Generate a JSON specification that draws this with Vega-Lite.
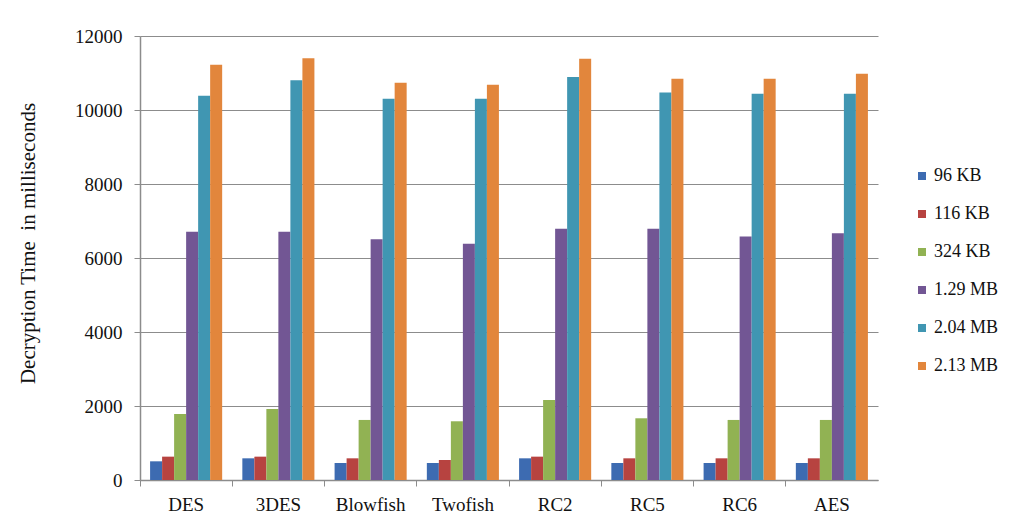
{
  "$schema": "https://vega.github.io/schema/vega-lite/v6.json",
  "width": 738,
  "height": 444,
  "autosize": {"type": "none"},
  "padding": {"left": 140, "top": 36, "right": 141, "bottom": 46},
  "background": "white",
  "config": {
    "view": {"stroke": null},
    "font": "Liberation Serif",
    "axis": {
      "labelFont": "Liberation Serif",
      "titleFont": "Liberation Serif",
      "labelColor": "#111111",
      "titleColor": "#111111",
      "domainColor": "#8c8c8c",
      "tickColor": "#8c8c8c",
      "gridColor": "#8c8c8c",
      "gridOpacity": 1
    },
    "legend": {
      "labelFont": "Liberation Serif",
      "labelColor": "#111111"
    }
  },
  "data": {
    "values": [
      {"algorithm": "DES", "size": "96 KB", "time": 505},
      {"algorithm": "DES", "size": "116 KB", "time": 631},
      {"algorithm": "DES", "size": "324 KB", "time": 1785},
      {"algorithm": "DES", "size": "1.29 MB", "time": 6708},
      {"algorithm": "DES", "size": "2.04 MB", "time": 10386},
      {"algorithm": "DES", "size": "2.13 MB", "time": 11224},
      {"algorithm": "3DES", "size": "96 KB", "time": 586},
      {"algorithm": "3DES", "size": "116 KB", "time": 631},
      {"algorithm": "3DES", "size": "324 KB", "time": 1920},
      {"algorithm": "3DES", "size": "1.29 MB", "time": 6708},
      {"algorithm": "3DES", "size": "2.04 MB", "time": 10801},
      {"algorithm": "3DES", "size": "2.13 MB", "time": 11396},
      {"algorithm": "Blowfish", "size": "96 KB", "time": 460},
      {"algorithm": "Blowfish", "size": "116 KB", "time": 586},
      {"algorithm": "Blowfish", "size": "324 KB", "time": 1623},
      {"algorithm": "Blowfish", "size": "1.29 MB", "time": 6509},
      {"algorithm": "Blowfish", "size": "2.04 MB", "time": 10305},
      {"algorithm": "Blowfish", "size": "2.13 MB", "time": 10738},
      {"algorithm": "Twofish", "size": "96 KB", "time": 460},
      {"algorithm": "Twofish", "size": "116 KB", "time": 541},
      {"algorithm": "Twofish", "size": "324 KB", "time": 1587},
      {"algorithm": "Twofish", "size": "1.29 MB", "time": 6383},
      {"algorithm": "Twofish", "size": "2.04 MB", "time": 10305},
      {"algorithm": "Twofish", "size": "2.13 MB", "time": 10684},
      {"algorithm": "RC2", "size": "96 KB", "time": 586},
      {"algorithm": "RC2", "size": "116 KB", "time": 631},
      {"algorithm": "RC2", "size": "324 KB", "time": 2164},
      {"algorithm": "RC2", "size": "1.29 MB", "time": 6789},
      {"algorithm": "RC2", "size": "2.04 MB", "time": 10891},
      {"algorithm": "RC2", "size": "2.13 MB", "time": 11387},
      {"algorithm": "RC5", "size": "96 KB", "time": 460},
      {"algorithm": "RC5", "size": "116 KB", "time": 586},
      {"algorithm": "RC5", "size": "324 KB", "time": 1668},
      {"algorithm": "RC5", "size": "1.29 MB", "time": 6789},
      {"algorithm": "RC5", "size": "2.04 MB", "time": 10476},
      {"algorithm": "RC5", "size": "2.13 MB", "time": 10846},
      {"algorithm": "RC6", "size": "96 KB", "time": 460},
      {"algorithm": "RC6", "size": "116 KB", "time": 586},
      {"algorithm": "RC6", "size": "324 KB", "time": 1623},
      {"algorithm": "RC6", "size": "1.29 MB", "time": 6581},
      {"algorithm": "RC6", "size": "2.04 MB", "time": 10440},
      {"algorithm": "RC6", "size": "2.13 MB", "time": 10846},
      {"algorithm": "AES", "size": "96 KB", "time": 460},
      {"algorithm": "AES", "size": "116 KB", "time": 586},
      {"algorithm": "AES", "size": "324 KB", "time": 1623},
      {"algorithm": "AES", "size": "1.29 MB", "time": 6672},
      {"algorithm": "AES", "size": "2.04 MB", "time": 10440},
      {"algorithm": "AES", "size": "2.13 MB", "time": 10981}
    ]
  },
  "mark": {"type": "bar"},
  "encoding": {
    "x": {
      "field": "algorithm",
      "type": "nominal",
      "sort": ["DES", "3DES", "Blowfish", "Twofish", "RC2", "RC5", "RC6", "AES"],
      "scale": {"paddingInner": 0, "paddingOuter": 0},
      "axis": {
        "title": null,
        "labelAngle": 0,
        "labelFont": "Liberation Serif",
        "labelFontSize": 19,
        "labelPadding": 9,
        "tickSize": 6,
        "bandPosition": 0,
        "domainWidth": 1.5
      }
    },
    "xOffset": {
      "field": "size",
      "type": "nominal",
      "sort": ["96 KB", "116 KB", "324 KB", "1.29 MB", "2.04 MB", "2.13 MB"],
      "scale": {"paddingInner": 0, "paddingOuter": 0.84}
    },
    "y": {
      "field": "time",
      "type": "quantitative",
      "scale": {"domain": [0, 12000], "nice": false},
      "axis": {
        "title": "Decryption Time\u00a0 in milliseconds",
        "titleFont": "Liberation Serif",
        "titleFontSize": 21,
        "titleFontWeight": "normal",
        "titleX": -112,
        "titleY": 207,
        "titleAngle": -90,
        "titleAlign": "center",
        "titleBaseline": "middle",
        "values": [0, 2000, 4000, 6000, 8000, 10000, 12000],
        "format": "d",
        "labelFont": "Liberation Serif",
        "labelFontSize": 19,
        "labelPadding": 12,
        "tickSize": 6,
        "grid": true,
        "domainWidth": 1.5
      }
    },
    "color": {
      "field": "size",
      "type": "nominal",
      "sort": ["96 KB", "116 KB", "324 KB", "1.29 MB", "2.04 MB", "2.13 MB"],
      "scale": {
        "domain": ["96 KB", "116 KB", "324 KB", "1.29 MB", "2.04 MB", "2.13 MB"],
        "range": ["#3d6bb1", "#b74340", "#91b253", "#725694", "#4096b2", "#e2863c"]
      },
      "legend": {
        "title": null,
        "orient": "none",
        "legendX": 773,
        "legendY": 131,
        "padding": 0,
        "symbolType": "square",
        "symbolSize": 64,
        "symbolStrokeWidth": 0,
        "labelFont": "Liberation Serif",
        "labelFontSize": 18,
        "labelOffset": 3,
        "rowPadding": 20
      }
    }
  }
}
